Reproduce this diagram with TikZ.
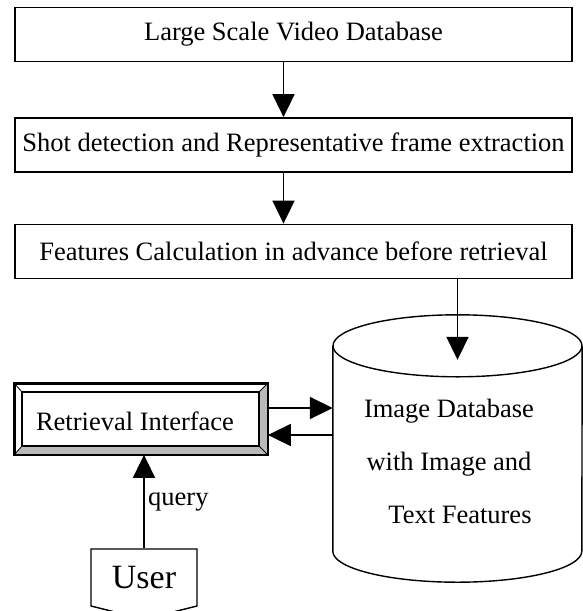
\documentclass[tikz,border=0pt]{standalone}
\usepackage{fontspec}
\setmainfont{Liberation Serif}
\usepackage{tikz}
\usetikzlibrary{shapes}
\usetikzlibrary{shapes.symbols}
\usetikzlibrary{calc}
\usetikzlibrary{arrows.meta}
\newcommand{\txtsize}{\fontsize{26.5}{30}\selectfont}
\newcommand{\usersize}{\fontsize{34}{40}\selectfont}

\begin{document}
\begin{tikzpicture}[x=1pt, y=-1pt,
    every node/.style={font=\txtsize},
    stagebox/.style={draw, line width=1.8pt, minimum width=557pt, minimum height=54pt, inner sep=0pt},
    dbcap/.style={x radius=124.5pt, y radius=31pt},
    arr/.style={line width=1.8pt, -{Triangle[length=23pt, width=22pt]}}]
  \useasboundingbox (0, 0) rectangle (583, 611);

  \node[stagebox] (vdb) at (293.5, 34.5) {Large Scale Video Database};
  \node[stagebox] (shot) at (293.5, 145) {Shot detection and Representative frame extraction};
  \node[stagebox] (feat) at (293.5, 251.5) {Features Calculation in advance before retrieval};

  % image database drum
  \node[minimum width=249pt, minimum height=267pt, inner sep=0pt] (idb) at (457.5, 448.5) {};
  \draw[line width=1.4pt] ($(idb.north)+(0, 31)$) ellipse [dbcap];
  \draw[line width=1.4pt] ($(idb.north west)+(0, 31)$) -- ($(idb.south west)+(0, -31)$)
    arc[start angle=180, end angle=360, dbcap] -- ($(idb.north east)+(0, 31)$);
  \node[align=center, font=\fontsize{26.5}{53}\selectfont] (idbt) at (449, 461)
    {Image Database\\with Image and\\\hspace*{22pt}Text Features};

  % retrieval interface, bevelled
  \node[draw, line width=1.8pt, minimum width=252pt, minimum height=70pt, inner sep=0pt] (ri) at (141, 419) {};
  \coordinate (rinw) at ($(ri.north west)+(8, 9)$);
  \coordinate (rine) at ($(ri.north east)+(-9, 9)$);
  \coordinate (rise) at ($(ri.south east)+(-9, -9)$);
  \coordinate (risw) at ($(ri.south west)+(8, -9)$);
  \fill[gray!55] (ri.south west) -- (ri.south east) -- (rise) -- (risw) -- cycle;
  \fill[gray!55] (ri.south east) -- (ri.north east) -- (rine) -- (rise) -- cycle;
  \draw[line width=0.8pt] (ri.north west) -- (rinw) (ri.north east) -- (rine)
    (ri.south east) -- (rise) (ri.south west) -- (risw);
  \draw[line width=1.8pt] (rinw) rectangle (rise);
  \draw[line width=1.8pt] (ri.north west) rectangle (ri.south east);
  \node (rit) at (135, 421) {Retrieval Interface};

  \node[signal, signal to=south, signal from=nowhere, signal pointer angle=152, draw, line width=1.4pt,
        minimum width=106pt, minimum height=65pt, inner sep=0pt, font=\usersize] (user) at (144, 577.5) {User};

  \draw[arr] ([xshift=-10pt]vdb.south) -- ([xshift=-10pt]shot.north);
  \draw[arr] ([xshift=-10pt]shot.south) -- ([xshift=-10pt]feat.north);
  \draw[arr] (feat.south -| idb.north) -- ($(idb.north)+(0, 45)$);
  \draw[arr] ([yshift=11pt]ri.east) -- ([yshift=11pt]ri.east -| idb.west);
  \draw[arr] ([yshift=-16pt]ri.east -| idb.west) -- ([yshift=-16pt]ri.east);
  \draw[arr] (user.north) -- (user.north |- ri.south) node[midway, right] {query};
\end{tikzpicture}
\end{document}
